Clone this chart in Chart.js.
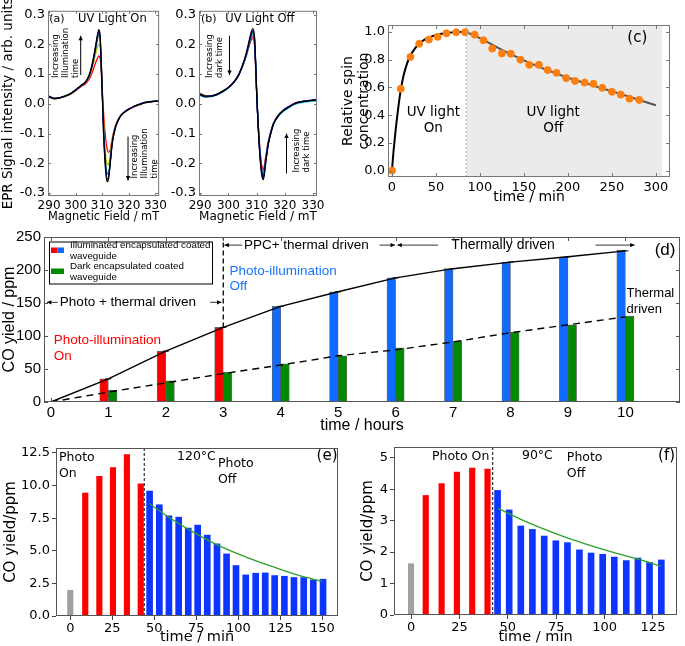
<!DOCTYPE html>
<html>
<head>
<meta charset="utf-8">
<script src="https://cdn.jsdelivr.net/npm/chart.js@4.4.1/dist/chart.umd.min.js"></script>
<style>
  html, body { margin: 0; padding: 0; background: #fff; }
  #fig { position: relative; width: 685px; height: 646px; overflow: hidden; }
  canvas { position: absolute; }
</style>
</head>
<body>
<div id="fig">
  <canvas id="chartA" style="left:0px;top:0px" width="170" height="224"></canvas>
  <canvas id="chartB" style="left:170px;top:0px" width="170" height="224"></canvas>
  <canvas id="chartC" style="left:340px;top:0px" width="345" height="206"></canvas>
  <canvas id="chartD" style="left:0px;top:225px" width="685" height="210"></canvas>
  <canvas id="chartE" style="left:0px;top:425px" width="345" height="221"></canvas>
  <canvas id="chartF" style="left:345px;top:425px" width="340" height="221"></canvas>
</div>
<script>
// (a) EPR spectra, UV light on
const fieldA = [289.6, 292, 294, 296, 298, 300, 302, 303.5, 304.5, 305.5, 306.5, 307.5, 308.2, 308.7, 309.2, 309.8, 310.5, 311.2, 311.8, 312.3, 313, 313.8, 315, 316.5, 318, 320, 322, 324, 326, 328, 330, 331.4];
const eprOnBlack  = [0.025, 0.017, 0.02, 0.026, 0.034, 0.047, 0.062, 0.072, 0.085, 0.108, 0.145, 0.195, 0.232, 0.25, 0.228, 0.09, -0.1, -0.215, -0.262, -0.255, -0.2, -0.13, -0.078, -0.046, -0.03, -0.018, -0.008, -0.002, 0.004, 0.007, 0.008, 0.01];
const eprOnBlue   = [0.027, 0.018, 0.021, 0.025, 0.035, 0.046, 0.061, 0.071, 0.084, 0.106, 0.142, 0.19, 0.226, 0.244, 0.225, 0.095, -0.09, -0.205, -0.252, -0.25, -0.198, -0.13, -0.079, -0.047, -0.03, -0.017, -0.009, -0.001, 0.005, 0.006, 0.01, 0.008];
const eprOnGreen  = [0.024, 0.019, 0.02, 0.027, 0.033, 0.047, 0.06, 0.071, 0.083, 0.104, 0.138, 0.183, 0.217, 0.232, 0.216, 0.095, -0.08, -0.19, -0.234, -0.236, -0.19, -0.125, -0.077, -0.046, -0.031, -0.019, -0.008, -0.003, 0.005, 0.008, 0.009, 0.011];
const eprOnYellow = [0.026, 0.02, 0.019, 0.026, 0.034, 0.045, 0.06, 0.07, 0.081, 0.1, 0.13, 0.168, 0.192, 0.2, 0.19, 0.1, -0.06, -0.165, -0.203, -0.205, -0.17, -0.118, -0.075, -0.046, -0.03, -0.018, -0.009, -0.002, 0.004, 0.007, 0.009, 0.01];
const eprOnRed    = [0.027, 0.02, 0.021, 0.025, 0.032, 0.044, 0.058, 0.066, 0.076, 0.09, 0.112, 0.138, 0.153, 0.161, 0.155, 0.08, -0.03, -0.11, -0.15, -0.163, -0.155, -0.115, -0.072, -0.045, -0.03, -0.019, -0.01, -0.003, 0.003, 0.006, 0.009, 0.008];

// (b) EPR spectra, UV light off
const fieldB = [289.6, 292, 294, 296, 298, 300, 302, 303.5, 305, 306.2, 307.2, 308, 308.7, 309.3, 310.2, 311, 311.8, 312.4, 313.2, 314.1, 315, 316, 317.5, 319.4, 321.5, 324, 327, 329, 331.4];
const eprOffBlack   = [0.034, 0.025, 0.026, 0.032, 0.042, 0.054, 0.074, 0.095, 0.13, 0.165, 0.205, 0.238, 0.253, 0.22, 0.0, -0.15, -0.237, -0.255, -0.2, -0.138, -0.1, -0.068, -0.042, -0.023, -0.01, 0.003, 0.009, 0.011, 0.014];
const eprOffBlue    = [0.032, 0.024, 0.027, 0.031, 0.041, 0.055, 0.073, 0.094, 0.128, 0.162, 0.2, 0.232, 0.245, 0.215, 0.0, -0.145, -0.23, -0.248, -0.196, -0.136, -0.099, -0.067, -0.043, -0.022, -0.009, 0.002, 0.008, 0.012, 0.013];
const eprOffGreen   = [0.035, 0.026, 0.026, 0.033, 0.043, 0.055, 0.073, 0.094, 0.127, 0.16, 0.197, 0.228, 0.24, 0.21, 0.0, -0.142, -0.226, -0.242, -0.193, -0.135, -0.098, -0.066, -0.041, -0.023, -0.01, 0.003, 0.009, 0.011, 0.013];
const eprOffCyan    = [0.03, 0.022, 0.024, 0.03, 0.04, 0.053, 0.072, 0.093, 0.126, 0.158, 0.194, 0.223, 0.233, 0.205, 0.0, -0.138, -0.22, -0.235, -0.19, -0.133, -0.1, -0.07, -0.045, -0.026, -0.013, 0.0, 0.006, 0.008, 0.01];
const eprOffMagenta = [0.036, 0.027, 0.027, 0.032, 0.042, 0.055, 0.074, 0.094, 0.126, 0.157, 0.191, 0.218, 0.227, 0.2, 0.0, -0.135, -0.215, -0.23, -0.186, -0.132, -0.097, -0.066, -0.041, -0.022, -0.008, 0.004, 0.01, 0.012, 0.014];
const eprOffRed     = [0.036, 0.028, 0.027, 0.033, 0.043, 0.056, 0.075, 0.095, 0.128, 0.158, 0.19, 0.213, 0.22, 0.19, 0.0, -0.13, -0.205, -0.22, -0.18, -0.128, -0.094, -0.065, -0.04, -0.022, -0.009, 0.003, 0.008, 0.01, 0.012];

// (c) relative spin concentration
const spinTime = [0, 10, 21, 31, 42, 52, 62, 73, 83, 94, 104, 114, 125, 135, 146, 156, 167, 177, 187, 198, 208, 219, 229, 239, 250, 260, 270, 281];
const spinConc = [0.0, 0.59, 0.82, 0.915, 0.945, 0.965, 0.99, 0.998, 0.998, 0.98, 0.94, 0.88, 0.845, 0.843, 0.80, 0.763, 0.763, 0.725, 0.705, 0.667, 0.647, 0.635, 0.626, 0.597, 0.568, 0.548, 0.519, 0.51];
const riseFitTime = [0, 1.5, 3, 5, 7.5, 10, 13, 17, 21, 26, 31, 37, 43, 50, 58, 66, 75, 84];
const riseFitConc = [0, 0.12, 0.22, 0.34, 0.47, 0.58, 0.68, 0.77, 0.83, 0.88, 0.915, 0.945, 0.962, 0.978, 0.989, 0.995, 0.999, 1.0];
const decayFitTime = [84, 100, 125, 150, 175, 200, 225, 250, 275, 300];
const decayFitConc = [1.0, 0.955, 0.87, 0.795, 0.728, 0.67, 0.62, 0.572, 0.522, 0.471];

// (d) CO yield over hours
const hours = [1, 2, 3, 4, 5, 6, 7, 8, 9, 10];
const illumYield = [35, 77, 113, 145, 167, 188, 202, 212, 220, 230];
const darkYield = [18, 32, 45, 58, 70, 82, 92, 106, 117, 130];
const trendHours = [0, 1, 2, 3, 4, 5, 6, 7, 8, 9, 10];
const illumTrend = [0, 35, 77, 113, 145, 167, 188, 202, 212, 220, 229];
const darkTrend = [0, 15, 29, 43, 56, 70, 79, 91, 105, 117, 129];
const photoOnHours = 3;

// (e) 120 °C
const eDarkTime = [0];
const eDarkYield = [1.97];
const eOnTime = [8.9, 17.3, 25.4, 33.7, 41.9];
const eOnYield = [9.43, 10.7, 11.37, 12.37, 10.14];
const eOffTime = [47.2, 53, 58.7, 64.5, 70.2, 75.8, 81.5, 87.3, 93, 98.6, 104.4, 110.3, 116, 121.6, 127.4, 133.1, 138.9, 144.6, 150.4];
const eOffYield = [9.58, 8.53, 7.68, 7.58, 6.74, 6.97, 6.2, 5.53, 4.76, 3.87, 3.15, 3.28, 3.3, 3.1, 3.05, 2.95, 2.95, 2.77, 2.82];
const eFitTime = [47, 60, 75, 90, 105, 120, 135, 150];
const eFitYield = [8.62, 7.45, 6.3, 5.3, 4.5, 3.8, 3.15, 2.65];

// (f) 90 °C
const fDarkTime = [0];
const fDarkYield = [1.63];
const fOnTime = [7.6, 15.8, 23.7, 31.6, 39.5];
const fOnYield = [3.8, 4.18, 4.54, 4.67, 4.64];
const fOffTime = [44.7, 50.7, 56.7, 62.7, 68.8, 74.8, 80.8, 87, 93, 99, 105, 111.2, 117.2, 123.2, 129.3];
const fOffYield = [3.96, 3.34, 2.83, 2.72, 2.51, 2.36, 2.3, 2.07, 1.97, 1.93, 1.84, 1.73, 1.81, 1.67, 1.75];
const fFitTime = [45, 60, 75, 90, 105, 120, 129];
const fFitYield = [3.39, 2.95, 2.58, 2.26, 1.98, 1.73, 1.55];

Chart.defaults.font.family = 'DejaVu Sans';
Chart.defaults.color = '#000';
Chart.defaults.animation = false;
Chart.defaults.plugins.legend.display = false;
Chart.defaults.plugins.tooltip.enabled = false;

function xy(xs, ys) {
    return xs.map((x, i) => ({ x: x, y: ys[i] }));
}

// frame, inner ticks, shaded spans, arrows, labels
const decor = {
    id: 'decor',
    beforeDatasetsDraw(chart, args, o) {
        const { ctx, chartArea: a, scales } = chart;
        (o.spans || []).forEach(s => {
            const x1 = scales.x.getPixelForValue(s.from);
            const x2 = Math.min(scales.x.getPixelForValue(s.to), a.right);
            ctx.save();
            ctx.fillStyle = s.color;
            ctx.fillRect(x1, a.top, x2 - x1, a.bottom - a.top);
            ctx.restore();
        });
    },
    afterDatasetsDraw(chart, args, o) {
        const { ctx, chartArea: a, scales: { x, y } } = chart;
        const pos = (p, vx, vy) => p.area ? [a.left + vx, a.top + vy] : [x.getPixelForValue(vx), y.getPixelForValue(vy)];
        ctx.save();
        (o.lines || []).forEach(l => {
            const [x1, y1] = pos(l, l.x1, l.y1);
            const [x2, y2] = pos(l, l.x2, l.y2);
            ctx.strokeStyle = ctx.fillStyle = l.color || '#000';
            ctx.lineWidth = l.width || 1;
            ctx.setLineDash(l.dash || []);
            ctx.beginPath();
            ctx.moveTo(x1, y1);
            ctx.lineTo(x2, y2);
            ctx.stroke();
            if (l.head) {
                const ang = Math.atan2(y2 - y1, x2 - x1), h = l.head;
                ctx.setLineDash([]);
                ctx.beginPath();
                ctx.moveTo(x2, y2);
                ctx.lineTo(x2 - h * Math.cos(ang - 0.45), y2 - h * Math.sin(ang - 0.45));
                ctx.lineTo(x2 - h * Math.cos(ang + 0.45), y2 - h * Math.sin(ang + 0.45));
                ctx.closePath();
                ctx.fill();
            }
        });
        ctx.setLineDash([]);
        (o.rects || []).forEach(r => {
            const [rx, ry] = pos(r, r.l, r.t);
            if (r.fill) { ctx.fillStyle = r.fill; ctx.fillRect(rx, ry, r.w, r.h); }
            if (r.stroke) { ctx.strokeStyle = r.stroke; ctx.lineWidth = r.lw || 1; ctx.strokeRect(rx + 0.5, ry + 0.5, r.w, r.h); }
        });
        (o.texts || []).forEach(t => {
            const [tx, ty] = pos(t, t.x, t.y);
            ctx.save();
            ctx.font = t.font || '12px DejaVu Sans';
            ctx.fillStyle = t.color || '#000';
            ctx.textAlign = t.align || 'left';
            ctx.textBaseline = 'middle';
            ctx.translate(tx, ty);
            if (t.rotate) ctx.rotate(t.rotate * Math.PI / 180);
            [].concat(t.text).forEach((line, i) => ctx.fillText(line, 0, i * (t.lh || 0)));
            ctx.restore();
        });
        if (o.frame) {
            ctx.strokeStyle = o.frame;
            ctx.lineWidth = 1;
            ctx.strokeRect(a.left + 0.5, a.top + 0.5, a.right - a.left - 1, a.bottom - a.top - 1);
            const len = o.innerTicks || 0;
            if (len) {
                ctx.beginPath();
                x.ticks.forEach(t => {
                    const p = Math.round(x.getPixelForValue(t.value)) + 0.5;
                    ctx.moveTo(p, a.bottom); ctx.lineTo(p, a.bottom - len);
                    ctx.moveTo(p, a.top); ctx.lineTo(p, a.top + len);
                });
                y.ticks.forEach(t => {
                    const p = Math.round(y.getPixelForValue(t.value)) + 0.5;
                    ctx.moveTo(a.left, p); ctx.lineTo(a.left + len, p);
                    ctx.moveTo(a.right, p); ctx.lineTo(a.right - len, p);
                });
                ctx.stroke();
            }
        }
        ctx.restore();
    }
};

function axis(o) {
    const fam = o.family || 'DejaVu Sans';
    return {
        type: 'linear',
        min: o.min,
        max: o.max,
        offset: false,
        grid: o.outTicks
            ? { display: true, drawOnChartArea: false, drawTicks: true, tickLength: 4, tickColor: '#444', offset: false }
            : { display: false, drawTicks: false, offset: false },
        border: { display: false },
        ticks: {
            stepSize: o.step, includeBounds: false, autoSkip: false, maxRotation: 0, minRotation: 0,
            padding: o.pad == null ? 3 : o.pad, color: '#000',
            font: { family: fam, size: o.size },
            callback: o.fmt || (v => String(v))
        },
        title: {
            display: !!o.title, text: o.title || '', color: '#000', padding: 0,
            font: { family: fam, size: o.tsize || 14, lineHeight: o.tlh || 1.2 }
        },
        afterFit: s => {
            if (o.w != null) s.width = o.w;
            if (o.h != null) s.height = o.h;
        }
    };
}

function curve(xs, ys, color, width) {
    return {
        data: xy(xs, ys), borderColor: color, borderWidth: width || 1.3,
        showLine: true, pointRadius: 0, cubicInterpolationMode: 'monotone'
    };
}

const oneDecimal = v => v.toFixed(1);

// (a)
new Chart(document.getElementById('chartA'), {
    type: 'scatter',
    data: {
        datasets: [
            curve(fieldA, eprOnBlack, '#000000'),
            curve(fieldA, eprOnBlue, '#0000ff'),
            curve(fieldA, eprOnGreen, '#008000'),
            curve(fieldA, eprOnYellow, '#bfbf00'),
            curve(fieldA, eprOnRed, '#ff0000')
        ]
    },
    options: {
        responsive: false,
        layout: { padding: { top: 6, right: 4, left: 0, bottom: 0 } },
        scales: {
            x: axis({ min: 289.6, max: 331.4, step: 10, size: 12, h: 28, title: 'Magnetic Field / mT', tsize: 13 }),
            y: axis({ min: -0.31, max: 0.313, step: 0.1, size: 13, w: 48, fmt: oneDecimal, title: 'EPR Signal intensity / arb. units', tsize: 13.5 })
        },
        plugins: {
            decor: {
                frame: '#777', innerTicks: 3,
                texts: [
                    { x: 290.1, y: 0.284, text: '(a)', font: '11px DejaVu Sans' },
                    { x: 300.9, y: 0.284, text: 'UV Light On', font: '11.5px DejaVu Sans' },
                    { x: 292.7, y: 0.087, text: ['Increasing', 'Illumination', 'time'], rotate: -90, lh: 10, font: '8.5px DejaVu Sans' },
                    { x: 322.3, y: -0.251, text: ['Increasing', 'Illumination', 'time'], rotate: -90, lh: 10, font: '8.5px DejaVu Sans' }
                ],
                lines: [
                    { x1: 301.9, y1: 0.097, x2: 301.9, y2: 0.229, head: 5 },
                    { x1: 319.7, y1: -0.11, x2: 319.7, y2: -0.258, head: 5 }
                ]
            }
        }
    },
    plugins: [decor]
});

// (b)
new Chart(document.getElementById('chartB'), {
    type: 'scatter',
    data: {
        datasets: [
            curve(fieldB, eprOffBlack, '#000000'),
            curve(fieldB, eprOffBlue, '#0000ff'),
            curve(fieldB, eprOffGreen, '#008000'),
            curve(fieldB, eprOffCyan, '#00bfbf'),
            curve(fieldB, eprOffMagenta, '#bf00bf'),
            curve(fieldB, eprOffRed, '#ff0000')
        ]
    },
    options: {
        responsive: false,
        layout: { padding: { top: 6, right: 23, left: 0, bottom: 0 } },
        scales: {
            x: axis({ min: 289.6, max: 331.4, step: 10, size: 12, h: 28, title: 'Magnetic Field / mT', tsize: 13 }),
            y: axis({ min: -0.31, max: 0.313, step: 0.1, size: 13, w: 29, fmt: oneDecimal })
        },
        plugins: {
            decor: {
                frame: '#777', innerTicks: 3,
                texts: [
                    { x: 290.3, y: 0.284, text: '(b)', font: '11px DejaVu Sans' },
                    { x: 298.9, y: 0.284, text: 'UV Light Off', font: '11.5px DejaVu Sans' },
                    { x: 293.6, y: 0.087, text: ['Increasing', 'dark time'], rotate: -90, lh: 10, font: '8.5px DejaVu Sans' },
                    { x: 324.1, y: -0.231, text: ['Increasing', 'dark time'], rotate: -90, lh: 10, font: '8.5px DejaVu Sans' }
                ],
                lines: [
                    { x1: 300.4, y1: 0.229, x2: 300.4, y2: 0.097, head: 5 },
                    { x1: 320.6, y1: -0.234, x2: 320.6, y2: -0.1, head: 5 }
                ]
            }
        }
    },
    plugins: [decor]
});

// (c)
new Chart(document.getElementById('chartC'), {
    type: 'scatter',
    data: {
        datasets: [
            { data: xy(spinTime, spinConc), backgroundColor: '#ff7f0e', borderColor: '#ff7f0e', pointRadius: 3.5, showLine: false },
            curve(riseFitTime, riseFitConc, '#000000', 2),
            curve(decayFitTime, decayFitConc, '#555555', 2)
        ]
    },
    options: {
        responsive: false,
        layout: { padding: { top: 25, right: 15, left: 0, bottom: 0 } },
        scales: {
            x: axis({ min: -4.5, max: 316, step: 50, size: 13, h: 29, title: 'time / min', tsize: 14 }),
            y: axis({ min: -0.046, max: 1.05, step: 0.2, size: 13, w: 48, fmt: oneDecimal, title: ['Relative spin', 'concentration'], tsize: 14, tlh: 1.15 })
        },
        plugins: {
            decor: {
                frame: '#777', innerTicks: 4,
                spans: [{ from: 84.4, to: 307, color: '#ebebeb' }],
                lines: [{ x1: 84.4, y1: -0.046, x2: 84.4, y2: 1.05, dash: [2, 2], color: '#aaaaaa' }],
                texts: [
                    { x: 47, y: 0.418, text: ['UV light', 'On'], align: 'center', lh: 15.5, font: '13.5px DejaVu Sans' },
                    { x: 183.3, y: 0.418, text: ['UV light', 'Off'], align: 'center', lh: 15.5, font: '13.5px DejaVu Sans' },
                    { x: 278.8, y: 0.959, text: '(c)', align: 'center', font: '15px DejaVu Sans' }
                ]
            }
        }
    },
    plugins: [decor]
});

// (d)
const dRed = '#ff0000', dBlue = '#0f6bff', dGreen = '#008a00';
const lib = 'Liberation Sans';
new Chart(document.getElementById('chartD'), {
    type: 'bar',
    data: {
        datasets: [
            {
                type: 'line', order: 0, data: xy(trendHours, illumTrend), borderColor: '#000', borderWidth: 1.4,
                pointStyle: 'line', pointRadius: 3, pointBorderColor: '#000', pointBorderWidth: 1
            },
            {
                type: 'line', order: 0, data: xy(trendHours, darkTrend), borderColor: '#000', borderWidth: 1.4,
                borderDash: [7, 5], pointRadius: 0
            },
            {
                type: 'bar', order: 1, data: xy(hours, illumYield),
                backgroundColor: c => (c.raw && c.raw.x <= photoOnHours) ? dRed : dBlue,
                borderColor: 'rgba(0,0,0,0.6)', borderWidth: 0.8, barThickness: 8.6
            },
            {
                type: 'bar', order: 1, data: xy(hours, darkYield), backgroundColor: dGreen,
                borderColor: 'rgba(0,0,0,0.6)', borderWidth: 0.8, barThickness: 8.6
            }
        ]
    },
    options: {
        responsive: false,
        layout: { padding: { top: 10.5, right: 2, left: 0, bottom: 0 } },
        scales: {
            x: axis({ min: -0.12, max: 10.95, step: 1, size: 15, family: lib, h: 33, pad: 2, title: 'time / hours', tsize: 16 }),
            y: axis({ min: 0, max: 250, step: 50, size: 15, family: lib, w: 44, title: 'CO yield / ppm', tsize: 16 })
        },
        plugins: {
            decor: {
                frame: '#555', innerTicks: 4,
                lines: [
                    { x1: 3, y1: 113, x2: 3, y2: 250, dash: [5, 3], width: 1.3 },
                    { x1: 0.12, y1: 151, x2: -0.07, y2: 151, head: 5, width: 0.8 },
                    { x1: 2.77, y1: 151, x2: 2.97, y2: 151, head: 5, width: 0.8 },
                    { x1: 3.33, y1: 237.7, x2: 3.02, y2: 237.7, head: 5, width: 0.8 },
                    { x1: 5.72, y1: 237.7, x2: 5.99, y2: 237.7, head: 5, width: 0.8 },
                    { x1: 6.74, y1: 237.7, x2: 6.03, y2: 237.7, head: 5, width: 0.8 },
                    { x1: 9.48, y1: 237.7, x2: 10.16, y2: 237.7, head: 5, width: 0.8 }
                ],
                rects: [
                    { area: true, l: 5, t: 4.5, w: 163, h: 42, fill: '#fff', stroke: '#000' },
                    { area: true, l: 7, t: 10.5, w: 6.5, h: 5.5, fill: dRed },
                    { area: true, l: 13.5, t: 10.5, w: 6.5, h: 5.5, fill: dBlue },
                    { area: true, l: 7, t: 31.5, w: 13, h: 5.5, fill: dGreen }
                ],
                texts: [
                    { area: true, x: 26, y: 8.5, text: ['Illuminated encapsulated coated', 'waveguide'], lh: 11, font: '9.8px ' + lib },
                    { area: true, x: 26, y: 29.5, text: ['Dark encapsulated coated', 'waveguide'], lh: 11, font: '9.8px ' + lib },
                    { x: 0.156, y: 151, text: 'Photo + thermal driven', font: '13.5px ' + lib },
                    { x: 3.36, y: 237.7, text: 'PPC+ thermal driven', font: '13.5px ' + lib },
                    { x: 6.97, y: 237.7, text: 'Thermally driven', font: '14px ' + lib },
                    { x: 3.11, y: 198.8, text: ['Photo-illumination', 'Off'], lh: 15.5, color: '#1a75ff', font: '13.5px ' + lib },
                    { x: 0.05, y: 94.2, text: ['Photo-illumination', 'On'], lh: 16.5, color: '#ff0000', font: '13.5px ' + lib },
                    { x: 10.02, y: 164.4, text: ['Thermal', 'driven'], lh: 16, font: '13px ' + lib },
                    { x: 10.69, y: 230, text: '(d)', align: 'center', font: '17px ' + lib }
                ]
            }
        }
    },
    plugins: [decor]
});

// (e) and (f) share the same bar styling
const grayBar = '#a0a0a0', redBar = '#ff0000', blueBar = '#0d35ff', fitGreen = '#2ca02c';
function barSet(xs, ys, color, thick) {
    return { type: 'bar', order: 1, grouped: false, barThickness: thick, data: xy(xs, ys), backgroundColor: color };
}
function fitLine(xs, ys) {
    return { type: 'line', order: 0, data: xy(xs, ys), borderColor: fitGreen, borderWidth: 1.3, pointRadius: 0, cubicInterpolationMode: 'monotone' };
}

new Chart(document.getElementById('chartE'), {
    type: 'bar',
    data: {
        datasets: [
            fitLine(eFitTime, eFitYield),
            barSet(eDarkTime, eDarkYield, grayBar, 5.5),
            barSet(eOnTime, eOnYield, redBar, 5.5),
            barSet(eOffTime, eOffYield, blueBar, 6)
        ]
    },
    options: {
        responsive: false,
        layout: { padding: { top: 23, right: 7, left: 2, bottom: 0 } },
        scales: {
            x: axis({ min: -8.5, max: 159.3, step: 25, size: 13, h: 30, pad: 1, outTicks: true, title: 'time / min', tsize: 14.5 }),
            y: axis({ min: 0, max: 12.88, step: 2.5, size: 13, w: 54, pad: 2, outTicks: true, fmt: oneDecimal, title: 'CO yield/ppm', tsize: 15 })
        },
        plugins: {
            decor: {
                frame: '#555',
                lines: [{ x1: 44, y1: 0, x2: 44, y2: 12.88, dash: [3, 2], width: 1 }],
                texts: [
                    { x: -6.7, y: 12.1, text: ['Photo', 'On'], lh: 15.5, font: '12.5px DejaVu Sans' },
                    { x: 63.5, y: 12.2, text: '120°C', font: '12.5px DejaVu Sans' },
                    { x: 87.9, y: 11.66, text: ['Photo', 'Off'], lh: 15.5, font: '12.5px DejaVu Sans' },
                    { x: 152.8, y: 12.27, text: '(e)', align: 'center', font: '15px DejaVu Sans' }
                ]
            }
        }
    },
    plugins: [decor]
});

new Chart(document.getElementById('chartF'), {
    type: 'bar',
    data: {
        datasets: [
            fitLine(fFitTime, fFitYield),
            barSet(fDarkTime, fDarkYield, grayBar, 5.5),
            barSet(fOnTime, fOnYield, redBar, 5.5),
            barSet(fOffTime, fOffYield, blueBar, 6)
        ]
    },
    options: {
        responsive: false,
        layout: { padding: { top: 22, right: 8, left: 14, bottom: 0 } },
        scales: {
            x: axis({ min: -8.8, max: 137.4, step: 25, size: 13, h: 31, pad: 1, outTicks: true, title: 'time / min', tsize: 14.5 }),
            y: axis({ min: 0, max: 5.34, step: 1, size: 13, w: 35, pad: 2, outTicks: true, title: 'CO yield/ppm', tsize: 15 })
        },
        plugins: {
            decor: {
                frame: '#555',
                lines: [{ x1: 42.2, y1: 0, x2: 42.2, y2: 5.34, dash: [3, 2], width: 1 }],
                texts: [
                    { x: 10.8, y: 5.02, text: 'Photo On', font: '12.5px DejaVu Sans' },
                    { x: 57.3, y: 5.05, text: '90°C', font: '12.5px DejaVu Sans' },
                    { x: 80.5, y: 4.99, text: ['Photo', 'Off'], lh: 15.5, font: '12.5px DejaVu Sans' },
                    { x: 132, y: 5.05, text: '(f)', align: 'center', font: '15px DejaVu Sans' }
                ]
            }
        }
    },
    plugins: [decor]
});
</script>
</body>
</html>
